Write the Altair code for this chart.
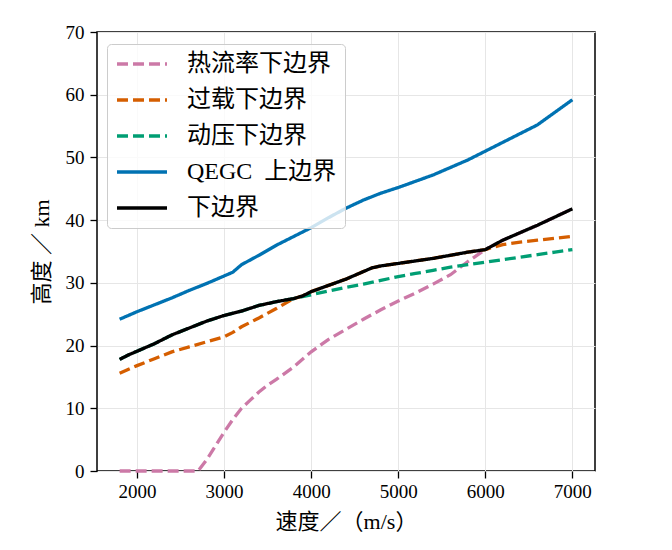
import altair as alt
import pandas as pd

# ---- data ----
series_names = ["热流率下边界", "过载下边界", "动压下边界", "QEGC\u00a0\u00a0上边界", "下边界"]
colors = ["#CC79A7", "#D55E00", "#009E73", "#0072B2", "#000000"]
dashes = [[11, 5], [11, 5], [11, 5], [1, 0], [1, 0]]

heat_v = [1800, 2000, 2200, 2400, 2600, 2700, 2800, 2900, 3000, 3100, 3200, 3300, 3400, 3500,
          3600, 3800, 4000, 4200, 4400, 4600, 4800, 5000, 5200, 5400, 5600, 5800, 6000,
          6200, 6400, 6600, 6800, 7000]
heat_h = [0, 0, 0, 0, 0, 0, 1.8, 4.0, 6.2, 8.2, 10.0, 11.3, 12.6, 13.7,
          14.6, 16.6, 19.0, 21.0, 22.6, 24.2, 25.7, 27.1, 28.4, 29.8, 31.3, 33.4, 35.3,
          36.8, 38.0, 39.2, 40.5, 41.8]

load_v = [1800, 2000, 2200, 2400, 2600, 2800, 3000, 3100, 3200, 3400, 3600, 3800, 3900, 4000,
          4200, 4400, 4600, 4700, 4800, 5000, 5200, 5400, 5600, 5800, 6000, 6200, 6400, 6600,
          6800, 7000]
load_h = [15.6, 16.8, 17.9, 19.0, 19.8, 20.6, 21.4, 22.1, 23.0, 24.4, 25.9, 27.5, 27.9, 28.6,
          29.6, 30.6, 31.8, 32.4, 32.7, 33.1, 33.5, 33.9, 34.4, 34.9, 35.3, 36.1, 36.5, 36.8,
          37.1, 37.4]

dyn_v = [1800, 1900, 2000, 2200, 2400, 2600, 2800, 3000, 3200, 3400, 3600, 3800, 3900, 4000,
         4200, 4400, 4600, 4800, 5000, 5200, 5400, 5600, 5800, 6000, 6200, 6400, 6600, 6800, 7000]
dyn_h = [17.8, 18.5, 19.1, 20.3, 21.7, 22.8, 23.9, 24.8, 25.5, 26.4, 27.0, 27.5, 27.8, 28.1,
         28.7, 29.3, 29.8, 30.4, 31.0, 31.5, 32.0, 32.5, 32.9, 33.3, 33.7, 34.1, 34.5, 34.9, 35.3]

qegc_v = [1800, 2000, 2200, 2400, 2600, 2800, 3000, 3100, 3200, 3400, 3600, 3800, 4000, 4200,
          4400, 4600, 4800, 5000, 5200, 5400, 5600, 5800, 6000, 6200, 6400, 6600, 6800, 7000]
qegc_h = [24.2, 25.4, 26.5, 27.6, 28.8, 29.9, 31.1, 31.7, 32.9, 34.4, 36.0, 37.4, 38.8, 40.4,
          41.9, 43.2, 44.3, 45.2, 46.2, 47.2, 48.4, 49.6, 51.0, 52.4, 53.8, 55.2, 57.2, 59.2]

low_v = [1800, 1900, 2000, 2200, 2400, 2600, 2800, 3000, 3200, 3400, 3600, 3800, 3900, 4000,
         4200, 4400, 4600, 4700, 4800, 5000, 5200, 5400, 5600, 5800, 6000, 6200, 6400, 6600,
         6800, 7000]
low_h = [17.8, 18.5, 19.1, 20.3, 21.7, 22.8, 23.9, 24.8, 25.5, 26.4, 27.0, 27.5, 27.9, 28.6,
         29.6, 30.6, 31.8, 32.4, 32.7, 33.1, 33.5, 33.9, 34.4, 34.9, 35.3, 36.8, 38.0, 39.2,
         40.5, 41.8]

x_ticks = [2000, 3000, 4000, 5000, 6000, 7000]
y_ticks = [0, 10, 20, 30, 40, 50, 60, 70]
x_title = "速度／（m/s）"
y_title = "高度 ／ km"

frames = []
for name, vs, hs in zip(series_names,
                        [heat_v, load_v, dyn_v, qegc_v, low_v],
                        [heat_h, load_h, dyn_h, qegc_h, low_h]):
    frames.append(pd.DataFrame({"v": vs, "h": hs, "series": name}))
df = pd.concat(frames, ignore_index=True)

FONT = "Liberation Serif, Noto Sans CJK SC"

legend = alt.Legend(
    title=None, orient="none", legendX=10, legendY=12,
    padding=8, fillColor="rgba(255,255,255,0.8)", strokeColor="#cccccc",
    cornerRadius=4, symbolType="stroke", symbolSize=2500, symbolStrokeWidth=3.3,
    labelFont=FONT, labelFontSize=24, labelFontWeight="normal", labelColor="black", labelOffset=18,
    labelLimit=400, rowPadding=12, clipHeight=24,
)

x_enc = alt.X("v:Q", scale=alt.Scale(domain=[1540, 7260], nice=False, zero=False),
              axis=alt.Axis(values=x_ticks, format="d", title=x_title))
y_enc = alt.Y("h:Q", scale=alt.Scale(domain=[0, 70], nice=False),
              axis=alt.Axis(values=y_ticks, format="d", title=y_title))
color_enc = alt.Color("series:N", scale=alt.Scale(domain=series_names, range=colors), legend=legend)
dash_enc = alt.StrokeDash("series:N", scale=alt.Scale(domain=series_names, range=dashes), legend=legend)

layers = []
for name in series_names:
    layers.append(
        alt.Chart(df).transform_filter(alt.datum.series == name)
        .mark_line(strokeWidth=3.3, strokeCap="butt")
        .encode(x=x_enc, y=y_enc, color=color_enc, strokeDash=dash_enc)
    )

chart = alt.layer(*layers).properties(
    width=498, height=439,
    padding={"left": 89, "top": 24, "right": 60, "bottom": 70},
    autosize=alt.AutoSizeParams(type="none"),
).configure_view(
    stroke="black", strokeWidth=1.5
).configure_axis(
    labelFont=FONT, labelFontSize=19, labelColor="black",
    titleFont=FONT, titleFontSize=22, titleFontWeight="normal", titleColor="black",
    tickColor="black", tickSize=7, tickWidth=1.3,
    gridColor="#e6e6e6", gridWidth=1, domain=False,
).configure_axisX(
    labelPadding=4, titlePadding=10,
).configure_axisY(
    labelPadding=6, titlePadding=12,
)

chart.save("out.html", embed_options={"renderer": "svg", "actions": False})
